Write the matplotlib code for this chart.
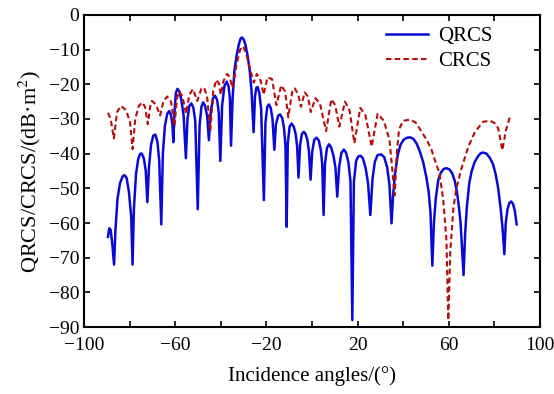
import numpy as np
import matplotlib
matplotlib.use("Agg")
import matplotlib.pyplot as plt

# QRCS curve: incidence angle (deg) and value (dB m^2)
qrcs_angle = [
    -89.5, -88.9, -88.3, -87.6, -86.8, -86.2, -85.3, -84.2, -83.0, -82.2,
    -81.3, -80.3, -79.3, -78.7, -78.1, -77.2, -76.2, -75.3, -74.6, -73.7,
    -72.9, -72.2, -71.5, -70.6, -69.6, -68.7, -67.8, -67.0, -66.1, -65.4,
    -64.5, -63.5, -62.6, -61.8, -61.2, -60.8, -60.3, -59.7, -59.0, -58.2,
    -57.3, -56.3, -55.3, -54.6, -53.8, -52.9, -52.0, -51.2, -50.1, -49.3,
    -48.5, -47.7, -46.9, -46.0, -45.2, -44.4, -43.4, -42.5, -41.6, -40.9,
    -40.2, -39.4, -38.4, -37.4, -36.6, -36.0, -35.5, -34.8, -34.0, -33.0,
    -32.0, -31.3, -30.7, -30.0, -29.2, -28.3, -27.3, -26.5, -25.6, -25.0,
    -24.4, -23.8, -23.1, -22.3, -21.1, -20.4, -19.6, -18.9, -18.1, -17.3,
    -16.5, -15.8, -14.8, -13.9, -13.0, -12.2, -11.6, -11.1, -10.6, -9.8,
    -8.9, -8.0, -7.1, -6.5, -5.9, -5.2, -4.4, -3.6, -2.8, -2.0,
    -1.3, -0.6, 0.1, 1.0, 2.0, 3.0, 3.9, 4.5, 5.1, 5.7,
    6.6, 7.5, 8.4, 9.4, 10.3, 11.1, 11.9, 12.9, 14.0, 15.0,
    16.0, 16.9, 17.7, 18.4, 19.4, 20.3, 21.3, 22.3, 23.5, 24.6,
    25.6, 26.6, 27.6, 28.8, 30.3, 31.7, 33.0, 34.0, 34.9, 35.6,
    36.4, 37.6, 38.8, 40.2, 41.7, 43.2, 44.6, 46.0, 47.4, 48.8,
    50.1, 51.2, 52.0, 52.8, 53.5, 54.3, 55.4, 56.5, 57.8, 59.1,
    60.4, 61.6, 62.7, 63.6, 64.4, 65.2, 66.5, 67.2, 68.0, 69.0,
    70.0, 71.3, 73.0, 74.2, 75.2, 76.6, 78.0, 79.4, 80.6, 81.7,
    82.8, 83.6, 84.4, 85.0, 85.8, 86.6, 87.4, 88.2, 89.0, 89.8,
]
qrcs_val = [
    -64.0, -61.5, -62.0, -66.0, -72.0, -62.0, -53.0, -48.5, -46.5, -46.2,
    -47.0, -51.0, -58.0, -72.0, -56.0, -46.0, -41.5, -40.0, -40.0, -41.5,
    -45.0, -54.0, -44.0, -37.5, -34.8, -34.5, -36.5, -42.0, -60.4, -40.0,
    -32.0, -28.5, -27.7, -29.0, -31.5, -36.7, -28.0, -22.5, -21.3, -22.0,
    -24.5, -29.0, -41.3, -30.0, -26.3, -25.5, -26.8, -30.5, -56.0, -32.0,
    -26.5, -25.2, -26.2, -29.0, -36.1, -28.0, -24.0, -23.3, -24.5, -28.0,
    -42.1, -26.0, -20.5, -19.2, -20.5, -24.0, -37.7, -24.0, -16.0, -11.5,
    -8.3, -6.8, -6.5, -7.0, -8.5, -11.5, -16.0, -22.0, -33.8, -23.5,
    -21.0, -20.8, -22.5, -27.0, -53.4, -31.0, -26.5, -25.8, -26.8, -30.0,
    -38.9, -31.5, -29.0, -28.7, -29.8, -33.0, -38.0, -61.1, -37.0, -32.2,
    -31.3, -32.2, -34.5, -38.0, -46.9, -37.5, -34.3, -33.7, -34.3, -36.0,
    -39.5, -47.5, -39.5, -36.0, -35.4, -36.2, -39.0, -43.0, -57.7, -43.0,
    -38.3, -37.3, -38.2, -40.5, -44.0, -52.4, -44.0, -39.8, -38.8, -39.8,
    -42.5, -48.0, -88.0, -48.0, -42.0, -40.8, -40.6, -41.3, -44.0, -48.5,
    -57.7, -47.0, -42.3, -40.4, -40.2, -41.0, -44.0, -49.0, -60.1, -52.0,
    -46.0, -40.5, -37.5, -36.0, -35.4, -35.3, -35.8, -37.2, -39.5, -42.5,
    -46.5, -51.0, -57.0, -72.3, -60.0, -53.0, -47.6, -45.5, -44.4, -44.2,
    -44.6, -45.8, -48.0, -51.0, -55.0, -60.0, -75.0, -63.0, -55.0, -48.5,
    -45.2, -42.5, -40.6, -39.8, -39.7, -40.0, -41.2, -43.0, -46.0, -50.0,
    -56.0, -61.5, -69.0, -60.0, -56.0, -54.2, -53.8, -54.5, -56.5, -60.4,
]

# CRCS curve
crcs_angle = [
    -89.5, -88.3, -86.9, -85.5, -83.8, -81.5, -79.8, -78.7, -77.5, -76.0,
    -74.5, -73.2, -72.0, -71.0, -70.2, -68.5, -66.6, -65.2, -63.5, -61.8,
    -60.3, -59.2, -58.3, -56.8, -55.2, -53.8, -52.2, -50.3, -48.5, -47.3,
    -46.0, -44.6, -43.3, -42.0, -40.8, -40.0, -38.8, -37.2, -36.0, -35.0,
    -34.0, -33.0, -31.5, -30.1, -28.5, -27.0, -25.5, -24.2, -22.5, -21.2,
    -19.5, -17.5, -15.6, -13.5, -11.8, -10.4, -8.5, -7.5, -6.0, -4.8,
    -3.2, -1.8, -0.5, 1.5, 3.5, 6.2, 8.5, 10.2, 12.0, 14.5,
    16.5, 18.6, 21.2, 23.5, 26.2, 28.8, 31.5, 34.0, 36.3, 37.2,
    38.2, 40.0, 43.0, 45.5, 48.1, 50.5, 52.5, 54.5, 55.9, 57.6,
    59.0, 59.8, 60.7, 62.0, 63.2, 65.6, 68.6, 71.5, 75.1, 78.1,
    80.2, 81.7, 83.5, 85.1, 87.1,
]
crcs_val = [
    -28.2, -30.0, -35.6, -28.0, -26.2, -27.5, -31.0, -38.7, -30.0, -26.3,
    -25.2, -26.5, -31.5, -26.5, -24.8, -25.8, -29.0, -25.0, -23.5, -25.0,
    -32.0, -24.0, -22.0, -23.5, -28.5, -23.0, -21.4, -24.8, -21.2, -21.0,
    -23.5, -33.5, -22.0, -18.7, -19.8, -23.0, -19.0, -17.0, -18.0, -21.0,
    -18.0, -14.0, -10.0, -9.0, -12.0, -16.0, -19.5, -17.0, -19.0, -23.0,
    -18.0, -18.5, -26.0, -20.3, -22.0, -29.5, -21.5, -21.2, -23.0, -26.5,
    -22.3, -23.5, -28.0, -24.0, -25.5, -33.5, -24.3, -26.0, -32.2, -25.0,
    -27.5, -37.0, -26.8, -29.0, -38.0, -28.5, -30.5, -36.0, -52.0, -40.0,
    -33.0, -30.5, -30.2, -31.0, -33.7, -36.2, -39.0, -43.0, -45.5, -53.4,
    -65.0, -88.0, -68.0, -56.0, -50.5, -44.2, -38.0, -33.7, -30.8, -30.5,
    -31.2, -32.7, -39.0, -33.2, -28.8,
]

x_major = [-100, -60, -20, 20, 60, 100]
x_minor = [-80, -40, 0, 40, 80]
y_ticks = list(range(-90, 1, 10))

plt.rcParams['font.family'] = ['Liberation Serif', 'DejaVu Serif']
plt.rcParams['mathtext.fontset'] = 'stix'

fig = plt.figure(figsize=(5.54, 3.94), dpi=100)
ax = fig.add_axes([0.1516, 0.17, 0.823, 0.792])

ax.plot(qrcs_angle, qrcs_val, color='#0a0ad8', lw=1.8, solid_joinstyle='round',
        label='QRCS')
ax.plot(crcs_angle, crcs_val, color='#b80c0c', lw=1.5, ls=(0, (2.6, 1.6)),
        label='CRCS')

ax.set_xlim(-100, 100)
ax.set_ylim(-90, 0)
ax.set_xticks(x_major)
ax.set_xticks(x_minor, minor=True)
ax.set_yticks(y_ticks)
ax.tick_params(which='both', direction='in', top=True, right=True, labelsize=14,
               width=1.2, length=4)
ax.tick_params(axis='x', which='both', pad=7)
for s in ax.spines.values():
    s.set_linewidth(1.5)

ax.set_xlabel('Incidence angles/(°)', fontsize=15, labelpad=9)
ax.set_ylabel('QRCS/CRCS/(dB·m$^2$)', fontsize=16, labelpad=4)

ax.legend(loc='upper right', bbox_to_anchor=(0.915, 0.99), frameon=False,
          fontsize=15, handlelength=2.0, handletextpad=0.5, labelspacing=0.25,
          borderaxespad=0.0)

fig.savefig('out.png', dpi=100)
